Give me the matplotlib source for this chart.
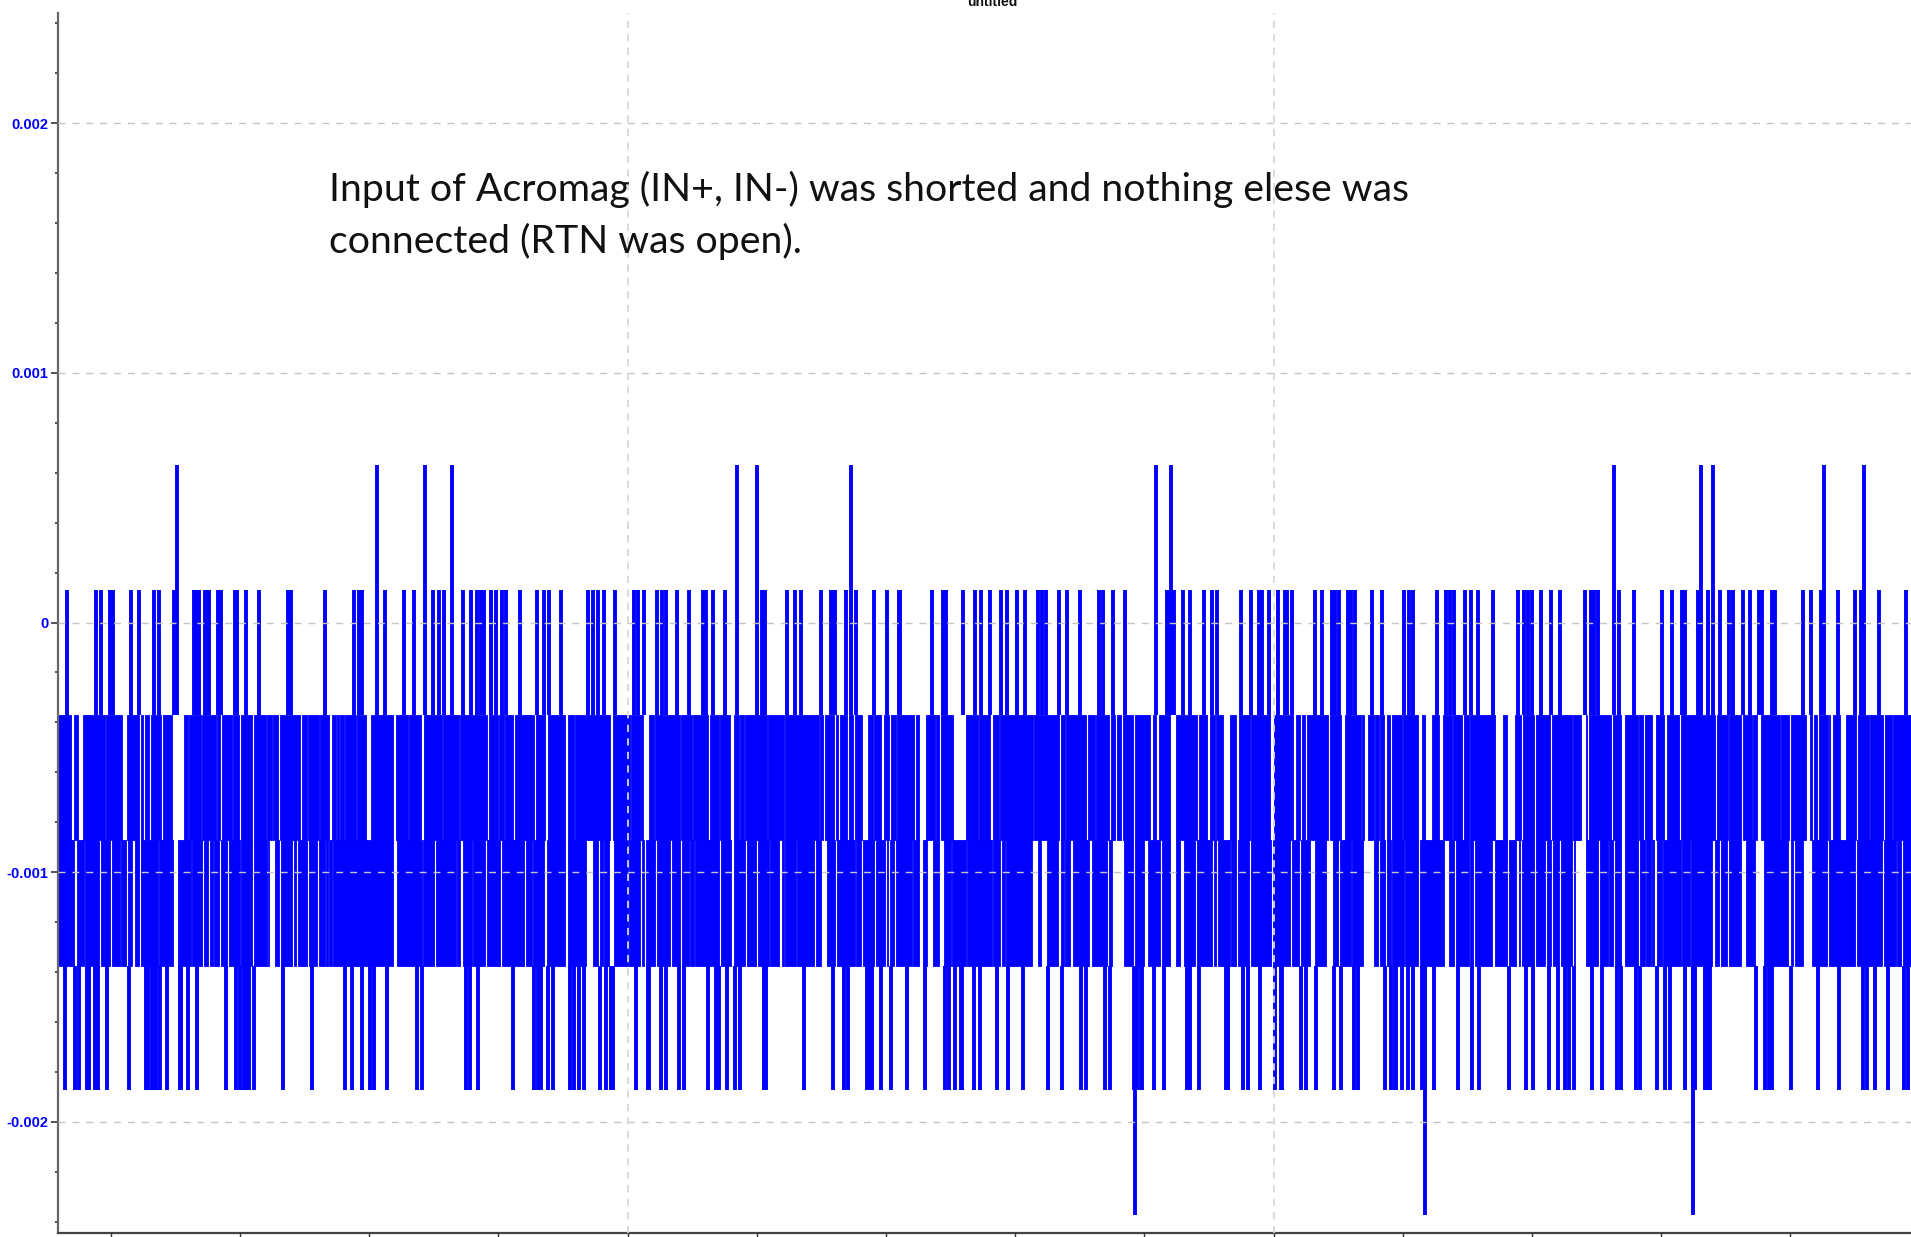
#!/usr/bin/env python3
import matplotlib
matplotlib.use('Agg')
import matplotlib.pyplot as plt

# voltage levels of the ADC trace (V)
level_top = 0.00063
level_high = 0.000129
level_upper = -0.000372
level_mid = -0.000872
level_lower = -0.001375
level_low = -0.001873
level_lowest = -0.002374

y_major = [-0.002, -0.001, 0, 0.001, 0.002]
y_labels = ['-0.002', '-0.001', '0', '0.001', '0.002']

# sample positions are read in three strips of the time axis
strip_start = [50, 670, 1290]
strip_scale = 2.529

top_a = [322, 826, 949, 1017]
top_b = [169, 219, 459, 1228, 1267]
top_c = [820, 1039, 1069, 1350, 1452]

high_a = [44, 117, 130, 152, 160, 205, 224, 263, 276, 314, 318, 364, 370, 376, 393, 399, 403,
          425, 432, 467, 473, 496, 528, 602, 610, 695, 770, 782, 788, 846, 896, 920, 968, 985,
          997, 1045, 1065, 1081, 1089, 1097, 1115, 1127, 1142, 1154, 1188, 1232, 1249, 1263,
          1292, 1361, 1373, 1386, 1400, 1429, 1477, 1486, 1502, 1535, 1549, 1558]
high_b = [18, 49, 83, 91, 110, 140, 232, 240, 296, 317, 332, 382, 407, 413, 418, 444, 471, 516,
          549, 578, 582, 662, 690, 699, 741, 771, 786, 809, 836, 853, 877, 898, 931, 940, 951,
          984, 1004, 1037, 1085, 1094, 1120, 1150, 1256, 1262, 1274, 1297, 1315, 1350, 1371,
          1384, 1443, 1469, 1490, 1496, 1514, 1538, 1555, 1561]
high_c = [4, 64, 82, 106, 115, 124, 146, 155, 164, 208, 232, 289, 300, 312, 371, 395, 405, 416,
          442, 457, 475, 514, 577, 593, 602, 611, 635, 661, 682, 746, 760, 770, 779, 832, 871,
          940, 966, 992, 1000, 1032, 1058, 1087, 1111, 1120, 1146, 1164, 1185, 1193, 1218, 1226,
          1297, 1318, 1342, 1386, 1430, 1445, 1490, 1557]

low_a = [38, 62, 73, 94, 98, 115, 121, 144, 200, 242, 249, 257, 262, 268, 277, 295, 328, 331,
         349, 372, 446, 470, 480, 491, 499, 504, 517, 588, 663, 746, 763, 790, 810, 819, 852,
         927, 942, 1051, 1062, 1083, 1172, 1225, 1234, 1243, 1259, 1273, 1314, 1324, 1338, 1350,
         1391, 1406, 1420, 1424, 1483, 1512, 1516, 1545, 1557]
low_b = [22, 36, 95, 116, 124, 143, 164, 176, 237, 244, 338, 412, 439, 451, 498, 504, 510, 534,
         560, 599, 645, 696, 706, 720, 735, 739, 768, 783, 827, 856, 892, 957, 992, 1040, 1052,
         1100, 1114, 1173, 1182, 1190, 1194, 1224, 1249, 1307, 1316, 1339, 1405, 1411, 1449,
         1461, 1493, 1529, 1544, 1549]
low_c = [28, 40, 66, 111, 129, 162, 171, 239, 256, 265, 268, 283, 298, 310, 333, 342, 365, 425,
         460, 478, 555, 596, 614, 655, 677, 696, 705, 717, 765, 789, 827, 838, 875, 886, 927,
         948, 962, 998, 1019, 1024, 1049, 1058, 1063, 1179, 1202, 1211, 1220, 1267, 1336, 1389,
         1448, 1460, 1480, 1512, 1554, 1562]

lowest_a = []
lowest_b = [1176]
lowest_c = [342, 1019]

# white columns inside the -0.00038..-0.00088 band
upper_gaps_a = [(52, 60), (72, 84), (138, 141), (182, 194), (226, 229), (236, 241), (250, 256),
                (280, 285), (308, 322), (322, 338), (350, 352), (382, 385), (420, 423), (431, 436),
                (460, 463), (478, 484), (510, 516), (546, 549), (562, 565), (576, 582), (632, 637),
                (651, 653), (680, 683), (705, 714), (723, 725), (731, 733), (743, 745), (775, 777),
                (800, 812), (868, 876), (906, 909), (937, 945), (991, 993), (1035, 1038),
                (1105, 1109), (1133, 1136), (1147, 1150), (1170, 1175), (1224, 1228), (1253, 1260),
                (1303, 1310), (1325, 1328), (1416, 1425), (1467, 1470), (1500, 1515), (1528, 1530)]
upper_gaps_b = [(25, 29), (55, 59), (96, 100), (124, 127), (153, 162), (174, 177), (186, 190),
                (245, 248), (288, 291), (376, 379), (387, 391), (416, 419), (425, 429), (448, 452),
                (464, 467), (485, 500), (514, 517), (533, 542), (553, 560), (572, 575), (618, 622),
                (630, 648), (670, 673), (680, 686), (716, 748), (778, 781), (810, 817), (832, 835),
                (918, 921), (985, 988), (998, 1001), (1053, 1056), (1075, 1078), (1110, 1116),
                (1125, 1131), (1140, 1146), (1172, 1176), (1215, 1222), (1228, 1237), (1265, 1280),
                (1334, 1338), (1358, 1366), (1378, 1382), (1398, 1416), (1432, 1440), (1466, 1469),
                (1518, 1528)]
upper_gaps_c = [(8, 14), (26, 30), (38, 44), (95, 100), (128, 140), (180, 183), (188, 196),
                (212, 216), (226, 228), (237, 246), (254, 258), (282, 285), (324, 334), (342, 358),
                (376, 388), (409, 412), (436, 440), (453, 456), (518, 538), (548, 570), (583, 588),
                (616, 622), (658, 662), (682, 684), (712, 716), (737, 748), (751, 755), (812, 816),
                (838, 848), (880, 883), (894, 897), (915, 925), (947, 953), (985, 990), (1075, 1080),
                (1107, 1110), (1140, 1146), (1168, 1172), (1180, 1192), (1208, 1210), (1240, 1243),
                (1263, 1268), (1305, 1314), (1320, 1326), (1333, 1337), (1360, 1364), (1366, 1372),
                (1390, 1405), (1432, 1436), (1465, 1467), (1500, 1506), (1522, 1526)]

# white columns inside the -0.00088..-0.00138 band
lower_gaps_a = [(60, 68), (86, 88), (125, 130), (138, 140), (152, 158), (176, 180), (192, 196),
                (208, 215), (225, 230), (272, 275), (310, 323), (356, 358), (385, 390), (400, 404),
                (412, 415), (428, 432), (447, 452), (480, 484), (510, 516), (548, 552), (555, 570),
                (580, 584), (612, 616), (622, 626), (650, 655), (675, 680), (695, 698), (703, 705),
                (712, 716), (778, 780), (868, 878), (940, 943), (970, 975), (1026, 1030), (1037, 1045),
                (1066, 1070), (1100, 1105), (1138, 1142), (1198, 1205), (1218, 1222), (1250, 1258),
                (1303, 1310), (1355, 1372), (1385, 1390), (1398, 1402), (1413, 1426), (1462, 1465),
                (1492, 1497), (1503, 1508), (1530, 1535)]
lower_gaps_b = [(0, 6), (25, 30), (47, 50), (60, 64), (125, 128), (155, 162), (190, 195), (218, 222),
                (250, 254), (275, 282), (288, 291), (318, 320), (364, 370), (382, 396), (417, 423),
                (468, 470), (484, 488), (516, 522), (543, 548), (552, 556), (567, 572), (612, 615),
                (630, 640), (650, 665), (680, 692), (710, 714), (748, 752), (815, 818), (835, 840),
                (848, 851), (915, 930), (937, 953), (980, 988), (996, 1000), (1012, 1018), (1060, 1066),
                (1105, 1110), (1118, 1148), (1172, 1176), (1200, 1210), (1238, 1245), (1265, 1280),
                (1291, 1300), (1328, 1332), (1370, 1377), (1382, 1385), (1416, 1420), (1432, 1436),
                (1464, 1470), (1520, 1524)]
lower_gaps_c = [(0, 4), (24, 28), (50, 62), (92, 108), (122, 126), (154, 158), (184, 213), (223, 227),
                (240, 246), (255, 258), (288, 291), (323, 329), (390, 402), (415, 420), (452, 456),
                (464, 469), (512, 518), (550, 553), (571, 578), (582, 586), (618, 622), (645, 650),
                (660, 664), (680, 685), (713, 717), (720, 748), (780, 785), (805, 808), (818, 822),
                (838, 846), (880, 884), (897, 900), (912, 915), (920, 928), (940, 944), (988, 992),
                (1012, 1015), (1068, 1074), (1086, 1089), (1106, 1109), (1140, 1154), (1176, 1198),
                (1260, 1266), (1271, 1278), (1298, 1320), (1358, 1362), (1428, 1435), (1496, 1502),
                (1533, 1535), (1545, 1550)]

note_line_1 = 'Input of Acromag (IN+, IN-) was shorted and nothing elese was'
note_line_2 = 'connected (RTN was open).'


def strip_positions(a, b, c):
    """Junta as tres faixas numa so lista de posicoes"""
    out = []
    for start, vals in zip(strip_start, (a, b, c)):
        out += [start + v / strip_scale for v in vals]
    return out


def band_runs(a, b, c, x0, x1):
    """Trechos cheios da banda: o complemento das colunas brancas"""
    gaps = []
    for start, vals in zip(strip_start, (a, b, c)):
        gaps += [(start + g0 / strip_scale, start + g1 / strip_scale) for g0, g1 in vals]
    runs = []
    pos = x0
    for g0, g1 in sorted(gaps):
        if g0 > pos:
            runs.append((pos, g0 - pos))
        pos = max(pos, g1)
    if pos < x1:
        runs.append((pos, x1 - pos))
    return runs


W, H = 1911, 1237
fig = plt.figure(figsize=(W / 100, H / 100), dpi=100, facecolor='white')
ax = fig.add_axes([58 / W, 4 / H, (W - 58) / W, (1237 - 17) / H])
x0, x1 = 58, 1911
ax.set_xlim(x0, x1)
ax.set_ylim(-0.002446, 0.002442)

blue = '#0000ff'
lw = 2.8

ax.broken_barh(band_runs(upper_gaps_a, upper_gaps_b, upper_gaps_c, x0, x1),
               (level_mid, level_upper - level_mid), facecolors=blue, edgecolors=blue, linewidth=0.6, zorder=2)
ax.broken_barh(band_runs(lower_gaps_a, lower_gaps_b, lower_gaps_c, x0, x1),
               (level_lower, level_mid - level_lower), facecolors=blue, edgecolors=blue, linewidth=0.6, zorder=2)

ax.vlines(strip_positions(high_a, high_b, high_c), level_upper, level_high, color=blue, lw=lw, zorder=2)
ax.vlines(strip_positions(top_a, top_b, top_c), level_upper, level_top, color=blue, lw=lw, zorder=2)
ax.vlines(strip_positions(low_a, low_b, low_c), level_low, level_lower, color=blue, lw=lw, zorder=2)
ax.vlines(strip_positions(lowest_a, lowest_b, lowest_c), level_lowest, level_lower, color=blue, lw=lw, zorder=2)

# grid drawn over the trace, as in the original screen capture
for v in y_major:
    ax.axhline(v, color='#c4c4c4', lw=1.0, dashes=(5, 5), zorder=3)
for t in (627.5, 1273.5):
    ax.axvline(t, color='#d8d8d8', lw=1.3, dashes=(4, 3.5), zorder=3)

ax.set_yticks(y_major)
ax.set_yticklabels(y_labels, color=blue, fontweight='bold', fontsize=10.5, family='Liberation Sans')
ax.set_yticks([v / 10000 for v in range(-24, 25, 2)], minor=True)
ax.tick_params(axis='y', which='major', length=5, width=1.2, color='#333333', pad=2)
ax.tick_params(axis='y', which='minor', length=2, width=1.2, color='#333333')
ax.set_xticks([627.5 + k * 129.2 for k in range(-4, 10)])
ax.set_xticklabels([])
ax.tick_params(axis='x', which='major', length=5, width=1, color='#333333')

for side in ('top', 'right'):
    ax.spines[side].set_visible(False)
ax.spines['left'].set_color('#666666')
ax.spines['left'].set_linewidth(1.6)
ax.spines['bottom'].set_color('#444444')
ax.spines['bottom'].set_linewidth(1.6)

fig.text(329 / W, 1 - 201 / H, note_line_1, fontsize=28.3, family='Lato', color='#111111',
         va='baseline', ha='left', zorder=5)
fig.text(329 / W, 1 - 253 / H, note_line_2, fontsize=28.3, family='Lato', color='#111111',
         va='baseline', ha='left', zorder=5)
# title is clipped by the top edge of the capture
fig.text(992 / W, 1 - 6 / H, 'untitled', fontsize=10, fontweight='bold', family='Liberation Sans',
         color='#111111', ha='center', va='baseline')

fig.savefig('out.png', dpi=100)
